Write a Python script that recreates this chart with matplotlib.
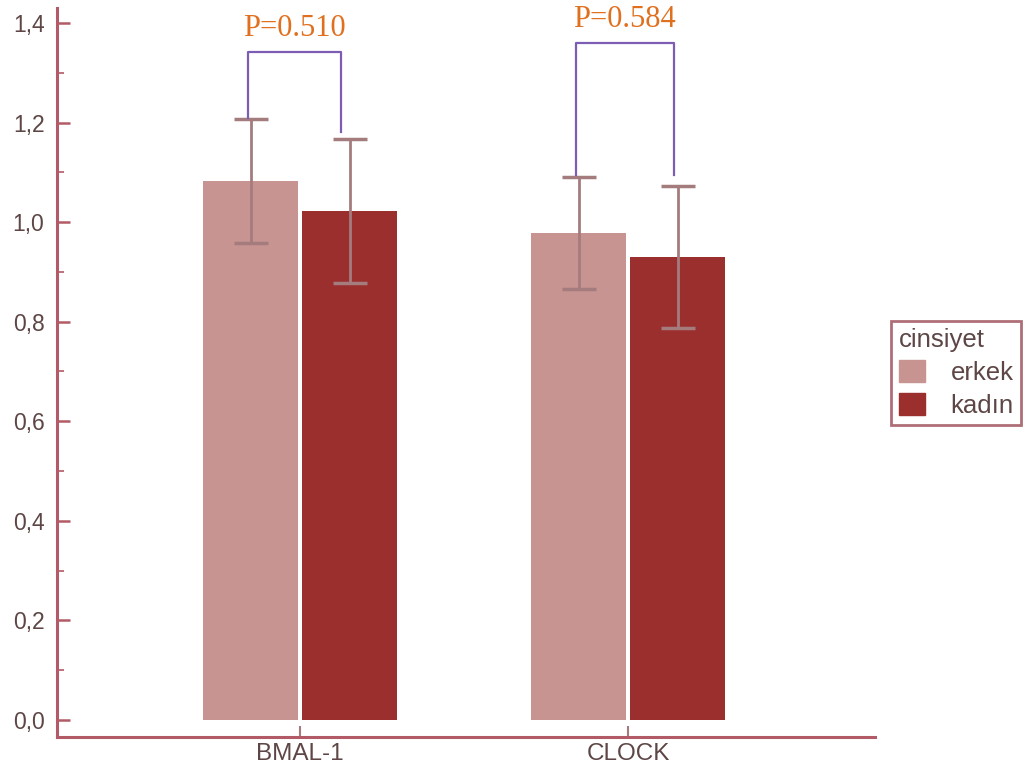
import matplotlib.pyplot as plt
from matplotlib.patches import Patch
import numpy as np

# group means and error bar half-widths per gene
genes = ["BMAL-1", "CLOCK"]
erkek_mean = [1.083, 0.978]
erkek_err = [0.125, 0.113]
kadin_mean = [1.022, 0.930]
kadin_err = [0.145, 0.142]

# significance brackets: leg x positions, leg bottoms, top line
p_values = ["P=0.510", "P=0.584"]
bracket_xl = [-0.159, 0.841]
bracket_xr = [0.125, 1.140]
bracket_yl = [1.209, 1.094]
bracket_yr = [1.181, 1.094]
bracket_top = [1.341, 1.359]

c_erkek = "#c79491"
c_kadin = "#9a2f2d"
c_axis = "#b25a66"
c_text = "#5e4646"
c_err = "#a57c7e"

fig = plt.figure(figsize=(10.27, 7.71), dpi=100)
ax = fig.add_axes([0.0555, 0.0436, 0.7965, 0.946])

x = np.arange(len(genes))
off = 0.151
w = 0.287

ax.bar(x - off, erkek_mean, w, color=c_erkek, zorder=2)
ax.bar(x + off, kadin_mean, w, color=c_kadin, zorder=2)
ax.errorbar(x - off, erkek_mean, yerr=erkek_err, fmt="none", ecolor=c_err,
            elinewidth=2, capsize=12.5, capthick=2.5, zorder=3)
ax.errorbar(x + off, kadin_mean, yerr=kadin_err, fmt="none", ecolor=c_err,
            elinewidth=2, capsize=12.5, capthick=2.5, zorder=3)

for i in range(len(genes)):
    xl, xr = bracket_xl[i], bracket_xr[i]
    top = bracket_top[i]
    ax.plot([xl, xl, xr, xr], [bracket_yl[i], top, top, bracket_yr[i]],
            color="#7d5db3", lw=1.6, clip_on=False, zorder=4)
    ax.text((xl + xr) / 2, top + 0.032, p_values[i], ha="center", va="baseline",
            family="Liberation Serif", fontsize=22, color="#e0701f")

ax.set_xlim(-0.741, 1.753)
ax.set_ylim(-0.035, 1.43)
yt = np.arange(0, 1.41, 0.2)
ax.set_yticks(yt)
ax.set_yticklabels([f"{v:.1f}".replace(".", ",") for v in yt])
ax.set_yticks(np.arange(0.1, 1.4, 0.2), minor=True)
ax.set_xticks(x)
ax.set_xticklabels(genes)

for s in ["top", "right"]:
    ax.spines[s].set_visible(False)
for s in ["left", "bottom"]:
    ax.spines[s].set_color(c_axis)
    ax.spines[s].set_linewidth(2.2)

ax.tick_params(axis="y", which="major", direction="in", length=9, width=1.8,
               color=c_axis, labelcolor=c_text, labelsize=16.5, pad=9)
ax.tick_params(axis="y", which="minor", direction="in", length=5, width=1.2,
               color=c_axis)
ax.tick_params(axis="x", direction="in", length=8, width=1.5, color=c_err,
               labelcolor=c_text, labelsize=17.5, pad=4)
for lab in ax.get_xticklabels() + ax.get_yticklabels():
    lab.set_family("Liberation Sans")

handles = [Patch(color=c_erkek, label="erkek"), Patch(color=c_kadin, label="kadın")]
leg = fig.legend(handles=handles, title="cinsiyet", loc="upper left",
                 bbox_to_anchor=(0.868, 0.584), frameon=True, fancybox=False,
                 handlelength=1.0, handleheight=0.95, handletextpad=1.0,
                 borderpad=0.3, borderaxespad=0, labelspacing=0.3,
                 alignment="left",
                 prop={"family": "Liberation Sans", "size": 18.5},
                 title_fontproperties={"family": "Liberation Sans", "size": 18.5})
leg.get_frame().set_edgecolor("#9a4a56")
leg.get_frame().set_linewidth(2)
leg.get_title().set_color(c_text)
for t in leg.get_texts():
    t.set_color(c_text)

fig.savefig("out.png", dpi=100)
